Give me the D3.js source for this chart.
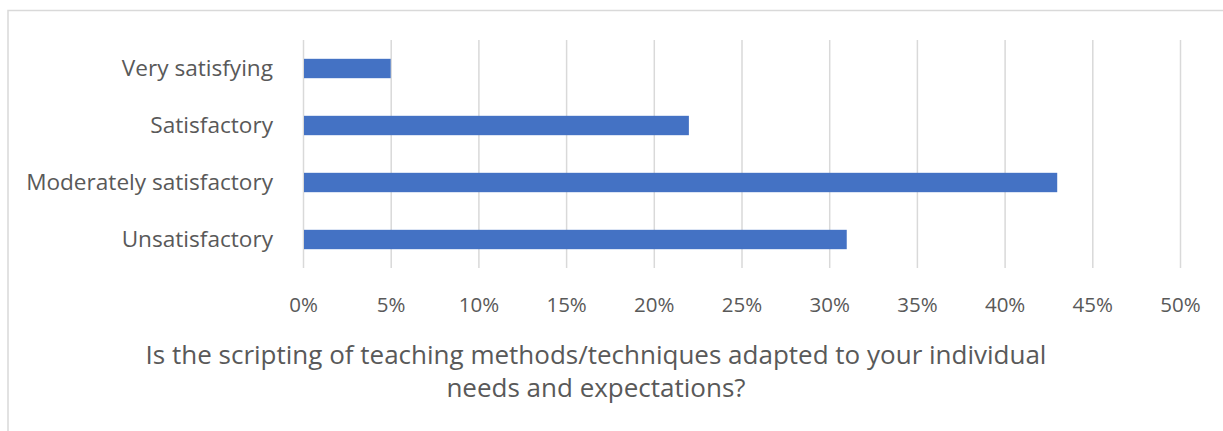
<!DOCTYPE html>
<html><head><meta charset="utf-8">
<script src="https://cdn.jsdelivr.net/npm/d3@7"></script>
<style>body{margin:0;background:#fff}svg{display:block}text{font-family:"Open Sans",sans-serif}</style>
</head><body><svg id="c" width="1223" height="431"></svg>
<script>
const categories = ["Very satisfying","Satisfactory","Moderately satisfactory","Unsatisfactory"];
const values = [5, 22, 43, 31];
const tickValues = [0,5,10,15,20,25,30,35,40,45,50];
const titleLines = ["Is the scripting of teaching methods/techniques adapted to your individual","needs and expectations?"];

const svg = d3.select("#c");
svg.append("rect").attr("x",8).attr("y",10.5).attr("width",1230).attr("height",430)
  .attr("fill","#fff").attr("stroke","#d9d9d9").attr("stroke-width",1.5);

const x = d3.scaleLinear().domain([0,50]).range([303,1180]);
const y = d3.scaleBand().domain(categories).range([40,268]).paddingInner(0.66).paddingOuter(0.33);

const grid = svg.append("g");
grid.selectAll("line").data(tickValues).join("line")
  .attr("x1",d=>x(d)+0.5).attr("x2",d=>x(d)+0.5).attr("y1",40).attr("y2",268)
  .attr("stroke","#d9d9d9").attr("stroke-width",1.5);

svg.append("g").selectAll("rect").data(values).join("rect")
  .attr("x",x(0)+1).attr("y",(d,i)=>y(categories[i]))
  .attr("width",d=>x(d)-x(0)-1).attr("height",y.bandwidth())
  .attr("fill","#4472C4");

const xAxis = svg.append("g").attr("transform","translate(0,268)")
  .call(d3.axisBottom(x).tickValues(tickValues).tickFormat(d=>d+"%").tickSize(0).tickPadding(0));
xAxis.select(".domain").remove();
xAxis.selectAll("text").attr("fill","#595959").style("font-size","20.5px").attr("dy",null).attr("y",44);

const yAxis = svg.append("g").attr("transform","translate(273,0)")
  .call(d3.axisLeft(y).tickSize(0).tickPadding(0));
yAxis.select(".domain").remove();
yAxis.selectAll("text").attr("fill","#595959").style("font-size","22.6px");

svg.append("g").selectAll("text").data(titleLines).join("text")
  .attr("x",596).attr("y",(d,i)=>364+i*33).attr("text-anchor","middle")
  .attr("fill","#595959").style("font-size","26px").text(d=>d);
</script></body></html>
